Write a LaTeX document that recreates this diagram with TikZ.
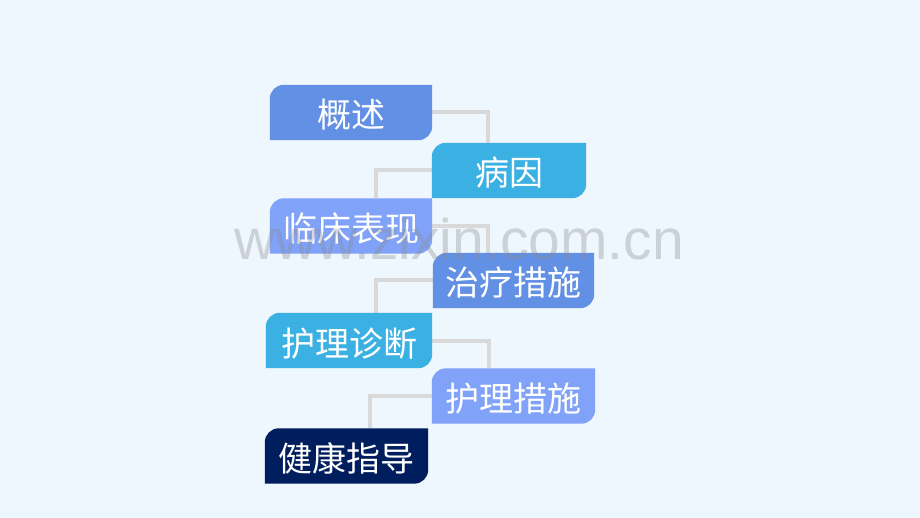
\documentclass[tikz,border=0pt]{standalone}
\usepackage{fontspec}
\setmainfont{Liberation Sans}
\newfontfamily\cjk{Noto Sans CJK SC}
\usetikzlibrary{backgrounds}
\definecolor{bgblue}{HTML}{EEF6FE}
\definecolor{linkgray}{HTML}{D9D9D9}
\definecolor{midblue}{HTML}{6290E4}
\definecolor{skyblue}{HTML}{3AB0E3}
\definecolor{paleblue}{HTML}{80A2F9}
\definecolor{navyblue}{HTML}{001E5E}

\begin{document}
\begin{tikzpicture}[x=1pt, y=-1pt, every node/.style={inner sep=0pt, text=white, font=\cjk\fontsize{34}{34}\selectfont}, tag/.style={minimum height=55pt, text height=31pt, text depth=0pt}, link/.style={draw=linkgray, line width=4pt}]
  \node[tag, minimum width=162pt] (gaishu) at (351,112.5) {概述};
  \node[tag, minimum width=154pt] (bingyin) at (509,170.5) {病因};
  \node[tag, minimum width=162pt] (linchuang) at (351,226) {临床表现};
  \node[tag, minimum width=161pt] (zhiliao) at (513.5,280.5) {治疗措施};
  \node[tag, minimum width=166pt] (zhenduan) at (349,340.5) {护理诊断};
  \node[tag, minimum width=163pt] (cuoshi) at (513.5,396) {护理措施};
  \node[tag, minimum width=163pt] (zhidao) at (346.5,456) {健康指导};
  \begin{scope}[on background layer]
    \fill[bgblue] (0,0) rectangle (920,518);
    % links zig-zag from box to box
    \draw[link] (gaishu.east) -| ([xshift=56pt]bingyin.north west);
    \draw[link] (bingyin.west) -| ([xshift=106pt]linchuang.north west);
    \draw[link] (linchuang.east) -| ([xshift=55pt]zhiliao.north west);
    \draw[link] (zhiliao.west) -| ([xshift=110pt]zhenduan.north west);
    \draw[link] (zhenduan.east) -| ([xshift=57pt]cuoshi.north west);
    \draw[link] (cuoshi.west) -| ([xshift=105pt]zhidao.north west);
    \foreach \n/\c in {gaishu/midblue, bingyin/skyblue, linchuang/paleblue, zhiliao/midblue, zhenduan/skyblue, cuoshi/paleblue, zhidao/navyblue}
      \fill[\c] (\n.south west) -- ([yshift=-14pt]\n.north west) arc[start angle=180, end angle=90, radius=14pt] -- (\n.north east) -- ([yshift=14pt]\n.south east) arc[start angle=0, end angle=-90, radius=14pt] -- cycle;
  \end{scope}
  \node[anchor=base, font=\fontsize{57}{57}\selectfont, text=black!45, opacity=.35] (mark) at (459,260) {www.zixin.com.cn};
\end{tikzpicture}
\end{document}
